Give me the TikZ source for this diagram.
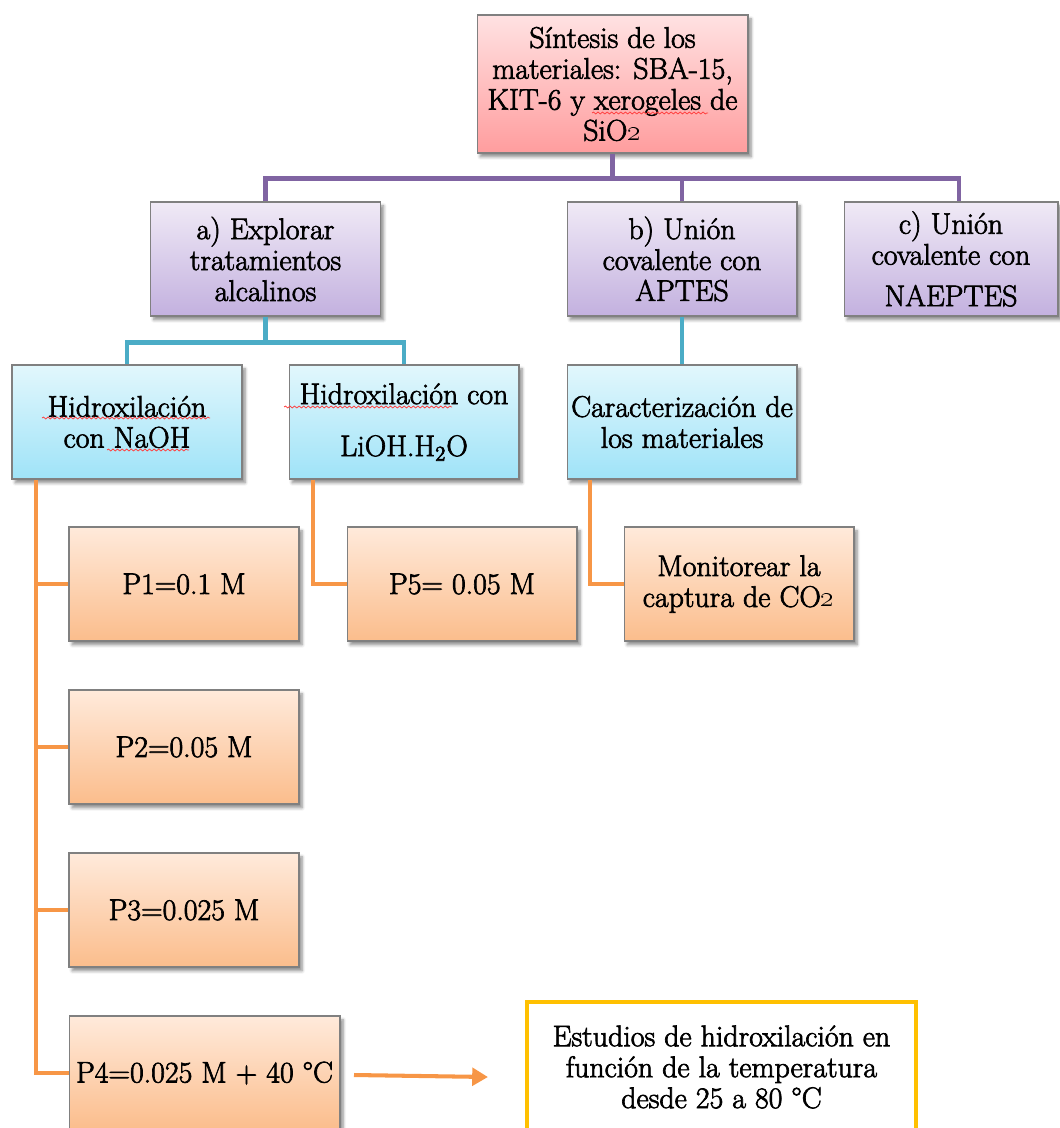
\documentclass[tikz,border=0pt]{standalone}
\usetikzlibrary{calc,shadows.blur,arrows.meta,decorations.pathmorphing}

\definecolor{pline}{HTML}{8064A2}
\definecolor{cline}{HTML}{4BACC6}
\definecolor{oline}{HTML}{F79646}
\definecolor{yline}{HTML}{FFC000}
\definecolor{redtop}{HTML}{FFE2E2}
\definecolor{redbot}{HTML}{FF9D9E}
\definecolor{vtop}{HTML}{F0EAF6}
\definecolor{vbot}{HTML}{C3B1DF}
\definecolor{ctop}{HTML}{E2F7FC}
\definecolor{cbot}{HTML}{9FE3F8}
\definecolor{otop}{HTML}{FFEADB}
\definecolor{obot}{HTML}{FBBD8C}

% slightly heavier text: fill and stroke the glyph outlines
\newcommand\heavyon{\special{pdf:literal direct 2 Tr 0.38 w}}
\newcommand\heavyoff{\special{pdf:literal direct 0 Tr 0.4 w}}

\tikzset{
  x=0.02cm, y=-0.02cm,
  txt/.style={text=black, font=\fontsize{17}{17.6}\selectfont,
    execute at begin node=\heavyon, execute at end node=\heavyoff},
  box/.style={rectangle, draw=black!50, line width=0.6pt, align=center,
    inner sep=1pt, txt,
    minimum width=4.6cm, minimum height=2.28cm,
    blur shadow={shadow xshift=1.8pt, shadow yshift=-2.2pt,
      shadow blur steps=6, shadow opacity=45}},
  redbox/.style={box, top color=redtop, bottom color=redbot},
  violetbox/.style={box, top color=vtop, bottom color=vbot},
  cyanbox/.style={box, top color=ctop, bottom color=cbot},
  orangebox/.style={box, top color=otop, bottom color=obot},
  pconn/.style={draw=pline, line width=2.8pt},
  cconn/.style={draw=cline, line width=2.8pt},
  oconn/.style={draw=oline, line width=2.3pt},
  squig/.style={draw=red!75, line width=0.45pt, decorate,
    decoration={snake, amplitude=0.55pt, segment length=2.6pt}},
}

\begin{document}
\begin{tikzpicture}
\useasboundingbox (0,0) rectangle (1060,1128);
\clip (0,0) rectangle (1060,1128);

% --- top level
\node[redbox, minimum width=5.42cm, minimum height=2.76cm] (top) at (612.5,84)
  {Síntesis de los\\materiales: SBA-15,\\KIT-6 y xerogeles de\\SiO\oldstylenums{2}};

% --- second level
\node[violetbox] (a) at (265.5,259) {a) Explorar\\tratamientos\\alcalinos};
\node[violetbox] (b) at (682,259) {b) Unión\\covalente con\\APTES};
\node[violetbox, minimum width=4.28cm] (c) at (951,259)
  {c) Unión\\covalente con\\[6pt]NAEPTES};

% --- third level
\node[cyanbox] (naoh) at (127,422) {Hidroxilación\\con NaOH};
\node[cyanbox] (lioh) at (404,422) {Hidroxilación con\\[12pt]LiOH.H$_2$O};
\node[cyanbox] (car) at (682,422) {Caracterización de\\los materiales};

% --- conditions
\node[orangebox] (p1) at (184,584) {P1=0.1 M};
\node[orangebox] (p5) at (462,584) {P5= 0.05 M};
\node[orangebox] (mon) at (739,584) {Monitorear la\\captura de CO\oldstylenums{2}};
\node[orangebox] (p2) at (184,747) {P2=0.05 M};
\node[orangebox] (p3) at (184,910) {P3=0.025 M};
\node[orangebox, minimum width=5.42cm] (p4) at (204.5,1073) {P4=0.025 M + 40 °C};

% --- temperature study
\node[rectangle, draw=yline, line width=2.2pt, fill=white, align=center, txt,
  minimum width=7.78cm, minimum height=2.6cm]
  (yb) at (721.5,1067)
  {Estudios de hidroxilación en\\función de la temperatura\\desde 25 a 80 °C};

% --- purple tree
\coordinate (pj) at ($(top.south)+(0,25)$);
\coordinate (cn) at ($(c.north)+(8,0)$);
\draw[pconn] (top.south) -- (pj);
\draw[pconn] (a.north) -- (a.north |- pj) -- (cn |- pj) -- (cn);
\draw[pconn] (b.north) -- (b.north |- pj);

% --- cyan tree
\coordinate (cj) at ($(a.south)+(0,26)$);
\draw[cconn] (a.south) -- (cj);
\draw[cconn] (naoh.north) -- (naoh.north |- cj) -- (lioh.north |- cj) -- (lioh.north);
\draw[cconn] (b.south) -- (car.north);

% --- orange branches
\coordinate (ns) at ($(naoh.south)+(-91,0)$);
\coordinate (ls) at ($(lioh.south)+(-91,0)$);
\coordinate (cs) at ($(car.south)+(-92,0)$);
\draw[oconn] (ns) -- (ns |- p4.west) -- (p4.west);
\draw[oconn] (ns |- p1.west) -- (p1.west);
\draw[oconn] (ns |- p2.west) -- (p2.west);
\draw[oconn] (ns |- p3.west) -- (p3.west);
\draw[oconn] (ls) |- (p5.west);
\draw[oconn] (cs) |- (mon.west);

% --- arrow to the temperature study
\coordinate (as) at (354,1075);
\coordinate (ae) at (488,1077);
\draw[oconn, -{Triangle[length=9pt, width=10pt]}] (as) -- (ae);

% --- spell-check marks
\draw[squig] (592,113) -- (708,113);
\draw[squig] (42,418) -- (210,418);
\draw[squig] (107,450) -- (189,450);
\draw[squig] (284,407) -- (452,407);
\end{tikzpicture}
\end{document}
